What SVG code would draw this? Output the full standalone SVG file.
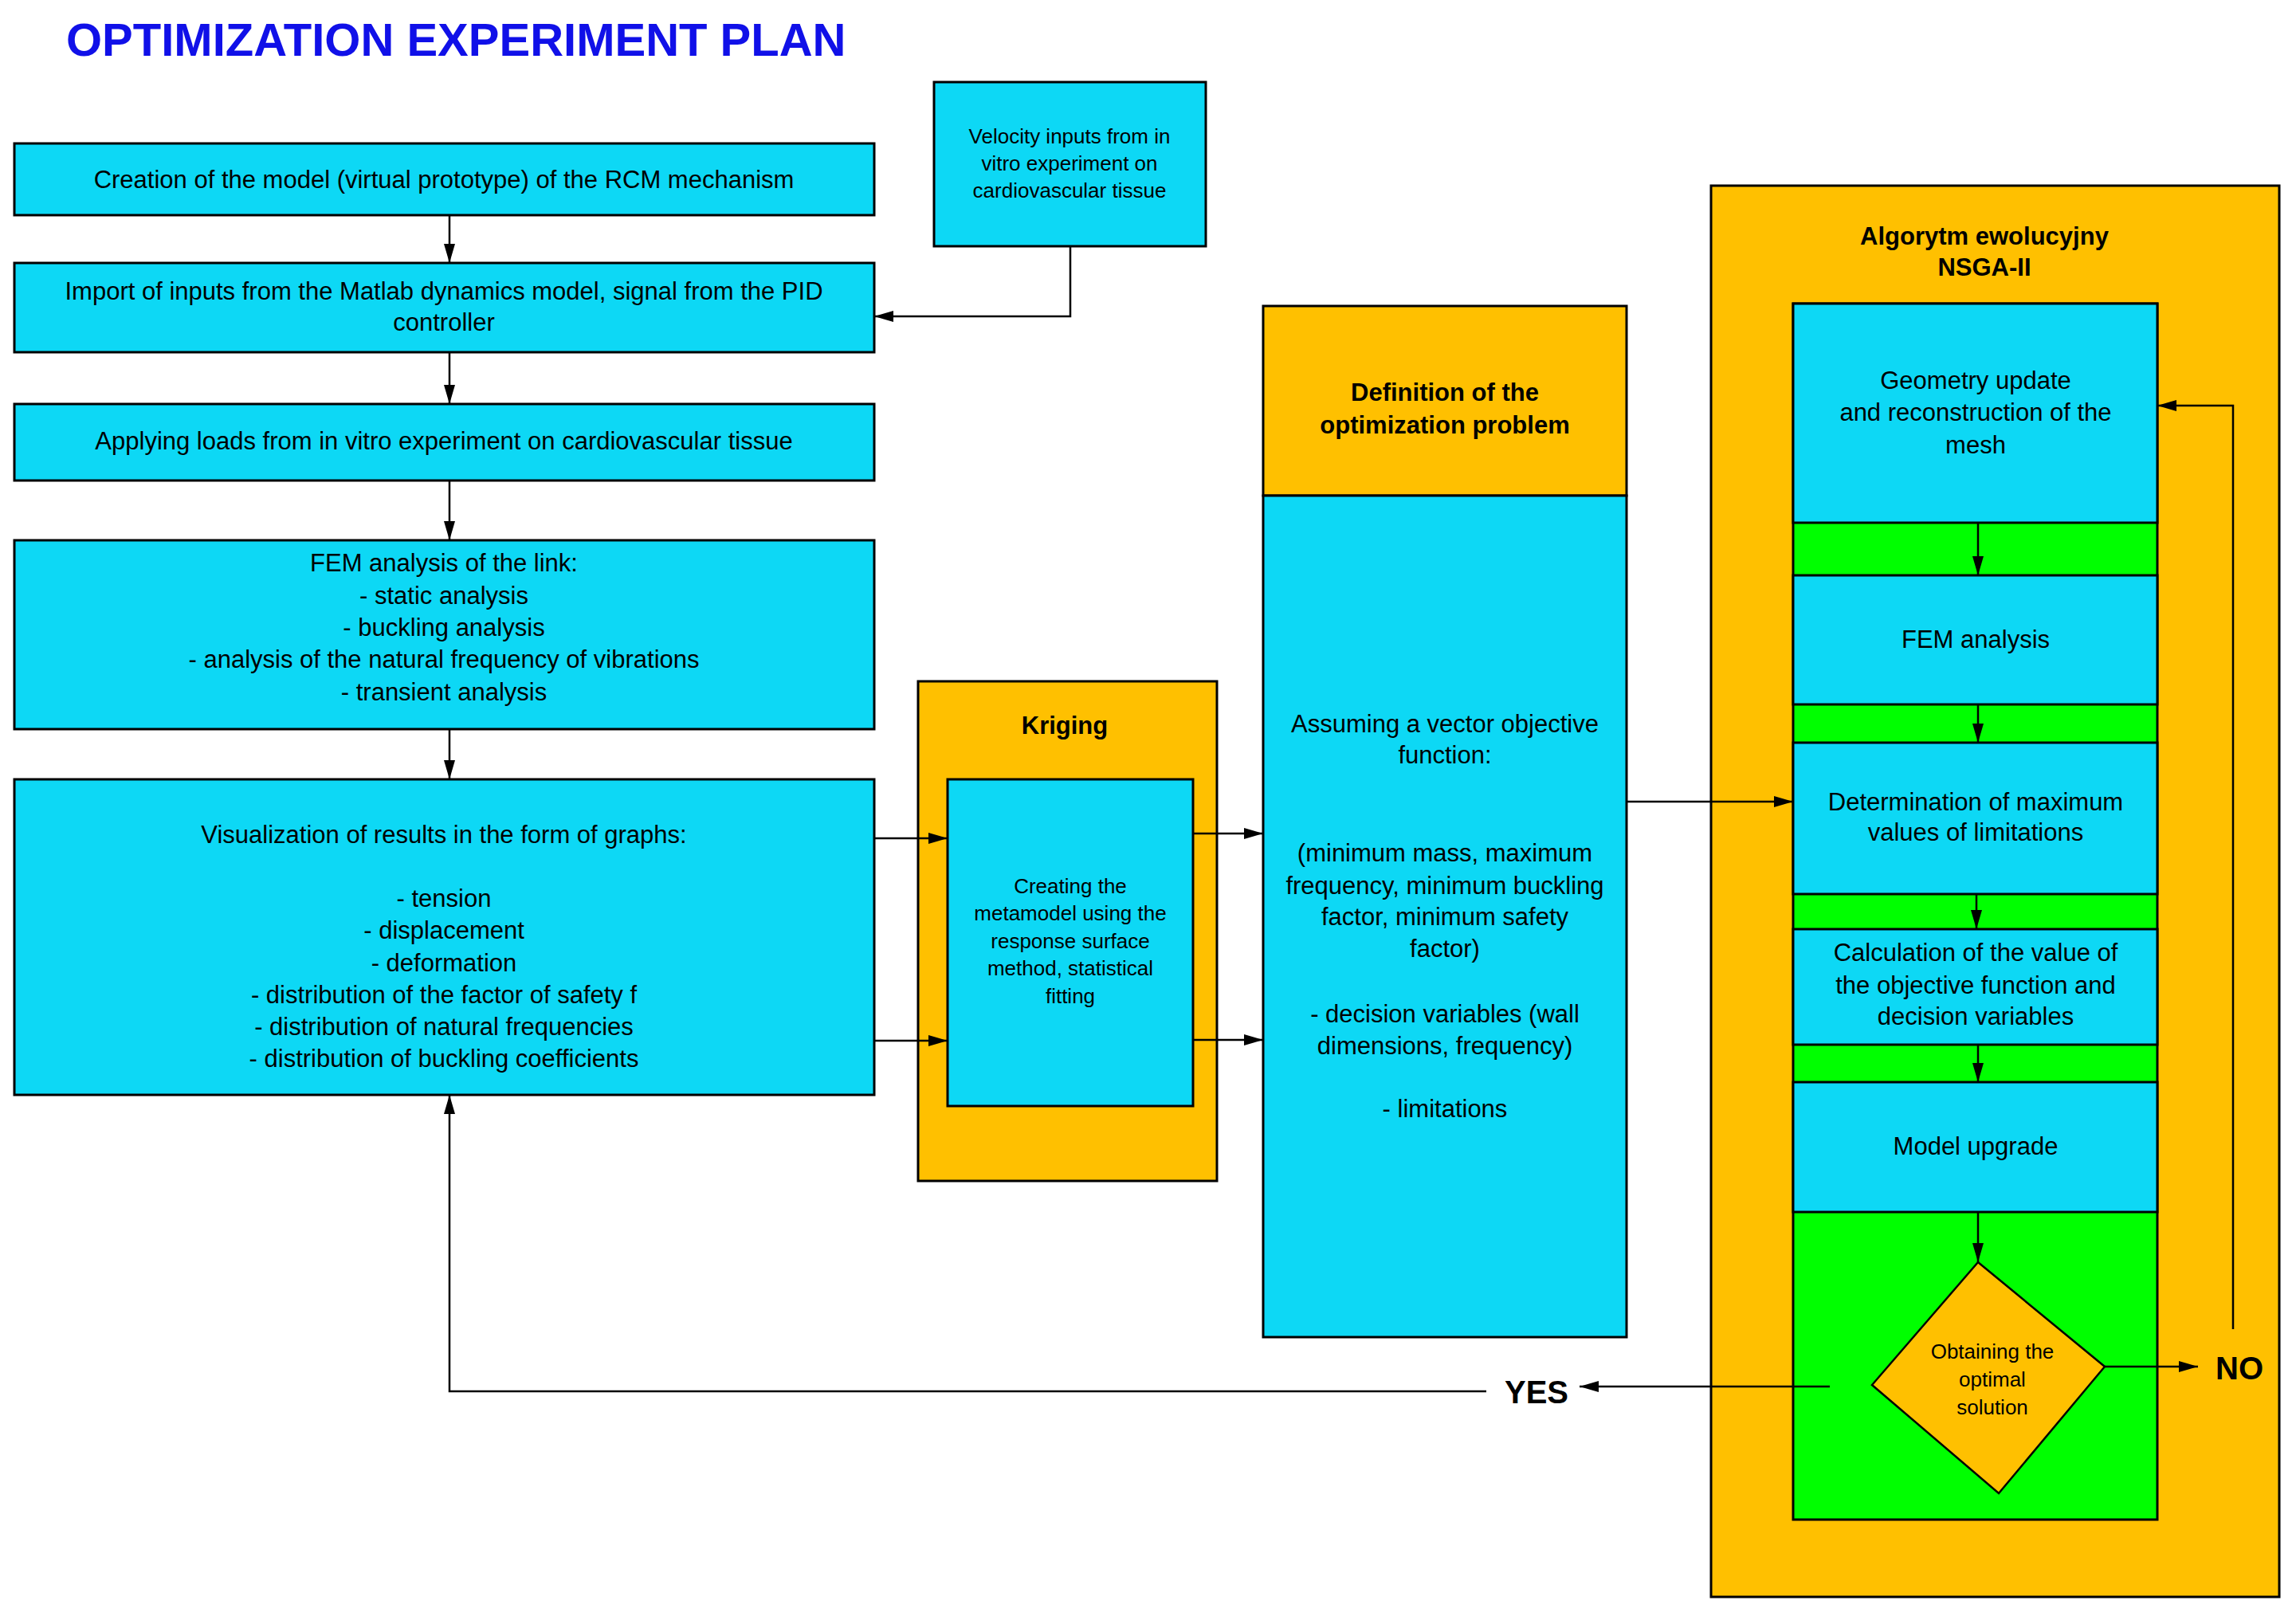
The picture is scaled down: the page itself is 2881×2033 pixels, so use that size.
<svg xmlns="http://www.w3.org/2000/svg" width="2881" height="2033" viewBox="0 0 2881 2033">
<defs>
<style>
.c{fill:#0DD8F5;stroke:#000;stroke-width:3}
.o{fill:#FFC000;stroke:#000;stroke-width:3}
.g{fill:#00FF00;stroke:#000;stroke-width:3}
text{font-family:"Liberation Sans",Arial,sans-serif;fill:#000;text-anchor:middle}
.t{font-size:31px}
.s{font-size:26px}
.b{font-size:31px;font-weight:bold}
.big{font-size:40px;font-weight:bold}
.ln{fill:none;stroke:#000;stroke-width:2.5}
</style>
<marker id="a" viewBox="0 0 24 14" refX="24" refY="7" markerWidth="24" markerHeight="14" markerUnits="userSpaceOnUse" orient="auto"><path d="M0,0L24,7L0,14z" fill="#000"/></marker>
</defs>
<text x="83" y="70" style="font-size:58px;font-weight:bold;fill:#1010E8;text-anchor:start">OPTIMIZATION EXPERIMENT PLAN</text>

<g id="n1"><rect class="c" x="18" y="180" width="1079" height="90"/><text class="t" x="557" y="236">Creation of the model (virtual prototype) of the RCM mechanism</text></g>
<g id="n2"><rect class="c" x="18" y="330" width="1079" height="112"/><text class="t" x="557" y="376">Import of inputs from the Matlab dynamics model, signal from the PID</text><text class="t" x="557" y="415">controller</text></g>
<g id="n3"><rect class="c" x="18" y="507" width="1079" height="96"/><text class="t" x="557" y="564">Applying loads from in vitro experiment on cardiovascular tissue</text></g>
<g id="n4"><rect class="c" x="18" y="678" width="1079" height="237"/>
<text class="t" x="557" y="717">FEM analysis of the link:</text><text class="t" x="557" y="758">- static analysis</text><text class="t" x="557" y="798">- buckling analysis</text><text class="t" x="557" y="838">- analysis of the natural frequency of vibrations</text><text class="t" x="557" y="879">- transient analysis</text></g>
<g id="n5"><rect class="c" x="18" y="978" width="1079" height="396"/>
<text class="t" x="557" y="1058">Visualization of results in the form of graphs:</text><text class="t" x="557" y="1138">- tension</text><text class="t" x="557" y="1178">- displacement</text><text class="t" x="557" y="1219">- deformation</text><text class="t" x="557" y="1259">- distribution of the factor of safety f</text><text class="t" x="557" y="1299">- distribution of natural frequencies</text><text class="t" x="557" y="1339">- distribution of buckling coefficients</text></g>
<g id="vel"><rect class="c" x="1172" y="103" width="341" height="206"/><text class="s" x="1342" y="180">Velocity inputs from in</text><text class="s" x="1342" y="214">vitro experiment on</text><text class="s" x="1342" y="248">cardiovascular tissue</text></g>
<g id="krig"><rect class="o" x="1152" y="855" width="375" height="627"/><text class="b" x="1336" y="921">Kriging</text>
<rect class="c" x="1189" y="978" width="308" height="410"/><text class="s" x="1343" y="1121">Creating the</text><text class="s" x="1343" y="1155">metamodel using the</text><text class="s" x="1343" y="1190">response surface</text><text class="s" x="1343" y="1224">method, statistical</text><text class="s" x="1343" y="1259">fitting</text></g>
<g id="def"><rect class="o" x="1585" y="384" width="456" height="238"/><text class="b" x="1813" y="503">Definition of the</text><text class="b" x="1813" y="544">optimization problem</text>
<rect class="c" x="1585" y="622" width="456" height="1056"/>
<text class="t" x="1813" y="919">Assuming a vector objective</text><text class="t" x="1813" y="958">function:</text><text class="t" x="1813" y="1081">(minimum mass, maximum</text><text class="t" x="1813" y="1122">frequency, minimum buckling</text><text class="t" x="1813" y="1161">factor, minimum safety</text><text class="t" x="1813" y="1201">factor)</text><text class="t" x="1813" y="1283">- decision variables (wall</text><text class="t" x="1813" y="1323">dimensions, frequency)</text><text class="t" x="1813" y="1402">- limitations</text></g>
<g id="algo"><rect class="o" x="2147" y="233" width="713" height="1771"/><text class="b" x="2490" y="307">Algorytm ewolucyjny</text><text class="b" x="2490" y="346">NSGA-II</text>
<rect class="g" x="2250" y="381" width="457" height="1526"/></g>
<g id="geo"><rect class="c" x="2250" y="381" width="457" height="275"/><text class="t" x="2479" y="488">Geometry update</text><text class="t" x="2479" y="528">and reconstruction of the</text><text class="t" x="2479" y="569">mesh</text></g>
<g id="fem"><rect class="c" x="2250" y="722" width="457" height="162"/><text class="t" x="2479" y="813">FEM analysis</text></g>
<g id="det"><rect class="c" x="2250" y="932" width="457" height="190"/><text class="t" x="2479" y="1017">Determination of maximum</text><text class="t" x="2479" y="1055">values of limitations</text></g>
<g id="calc"><rect class="c" x="2250" y="1166" width="457" height="145"/><text class="t" x="2479" y="1206">Calculation of the value of</text><text class="t" x="2479" y="1247">the objective function and</text><text class="t" x="2479" y="1286">decision variables</text></g>
<g id="mod"><rect class="c" x="2250" y="1358" width="457" height="163"/><text class="t" x="2479" y="1449">Model upgrade</text></g>
<g id="dec"><path d="M2482,1584L2641,1715L2508,1874L2349,1738z" fill="#FFC000" stroke="#000" stroke-width="2.5"/><text class="s" x="2500" y="1705">Obtaining the</text><text class="s" x="2500" y="1740">optimal</text><text class="s" x="2500" y="1775">solution</text></g>
<text class="big" x="2810" y="1731">NO</text>
<text class="big" x="1928" y="1761">YES</text>

<g id="connectors" class="ln">
<path class="ln" d="M564,270V330" marker-end="url(#a)"/>
<path class="ln" d="M564,442V507" marker-end="url(#a)"/>
<path class="ln" d="M564,603V678" marker-end="url(#a)"/>
<path class="ln" d="M564,915V978" marker-end="url(#a)"/>
<path class="ln" d="M1343,309V397H1097" marker-end="url(#a)"/>
<path class="ln" d="M1097,1052H1189" marker-end="url(#a)"/>
<path class="ln" d="M1097,1306H1189" marker-end="url(#a)"/>
<path class="ln" d="M1497,1046H1585" marker-end="url(#a)"/>
<path class="ln" d="M1497,1305H1585" marker-end="url(#a)"/>
<path class="ln" d="M2041,1006H2250" marker-end="url(#a)"/>
<path class="ln" d="M2482,656V722" marker-end="url(#a)"/>
<path class="ln" d="M2482,884V932" marker-end="url(#a)"/>
<path class="ln" d="M2480,1122V1166" marker-end="url(#a)"/>
<path class="ln" d="M2482,1311V1358" marker-end="url(#a)"/>
<path class="ln" d="M2482,1521V1584" marker-end="url(#a)"/>
<path class="ln" d="M2641,1715H2758" marker-end="url(#a)"/>
<path class="ln" d="M2802,1668V509H2707" marker-end="url(#a)"/>
<path class="ln" d="M2296,1740H1982" marker-end="url(#a)"/>
<path class="ln" d="M1865,1746H564V1374" marker-end="url(#a)"/>
</g>
</svg>
